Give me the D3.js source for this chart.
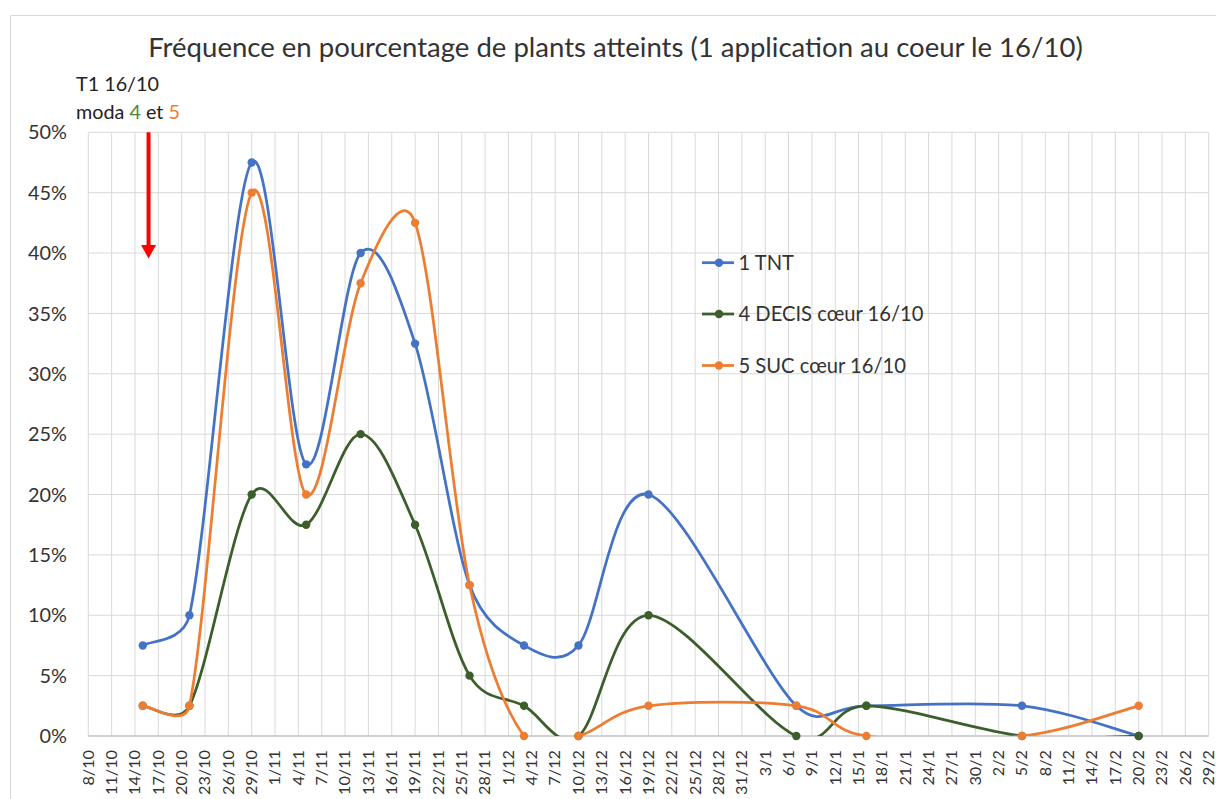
<!DOCTYPE html>
<html>
<head>
<meta charset="utf-8">
<script src="https://cdn.jsdelivr.net/npm/d3@7/dist/d3.min.js"></script>
<style>
  html, body { margin: 0; padding: 0; background: #fff; }
  svg { display: block; }
  text { font-family: Lato, "Open Sans", sans-serif; }
</style>
</head>
<body>
<svg id="chart" width="1216" height="799"></svg>
<script>
// ---------- DATA ----------
const sampleDates = ["15/10","21/10","29/10","5/11","12/11","19/11","26/11","3/12","10/12","19/12","7/1","16/1","5/2","20/2"];
const tnt   = [7.5, 10, 47.5, 22.5, 40, 32.5, 12.5, 7.5, 7.5, 20, 2.5, 2.5, 2.5, 0];
const decis = [2.5, 2.5, 20, 17.5, 25, 17.5, 5, 2.5, 0, 10, 0, 2.5, 0, 0];
const suc   = [2.5, 2.5, 45, 20, 37.5, 42.5, 12.5, 0, 0, 2.5, 2.5, 0, 0, 2.5];
const seriesNames = ["1 TNT", "4 DECIS cœur 16/10", "5 SUC cœur 16/10"];
const seriesColors = ["#4472C4", "#3B5E2B", "#ED7D31"];
const xTickLabels = ["8/10","11/10","14/10","17/10","20/10","23/10","26/10","29/10","1/11","4/11","7/11","10/11","13/11","16/11","19/11","22/11","25/11","28/11","1/12","4/12","7/12","10/12","13/12","16/12","19/12","22/12","25/12","28/12","31/12","3/1","6/1","9/1","12/1","15/1","18/1","21/1","24/1","27/1","30/1","2/2","5/2","8/2","11/2","14/2","17/2","20/2","23/2","26/2","29/2"];
const yTicks = [0, 5, 10, 15, 20, 25, 30, 35, 40, 45, 50];
const titleText = "Fréquence en pourcentage de plants atteints (1 application au coeur le 16/10)";
const treatmentDate = "16/10";

// ---------- HELPERS ----------
function toDate(s) {
  const [d, m] = s.split("/").map(Number);
  const y = m >= 8 ? 2019 : 2020;
  return new Date(Date.UTC(y, m - 1, d));
}
function fit(sel, target) {
  const node = sel.node();
  const fs = parseFloat(sel.attr("font-size"));
  const w = node.getComputedTextLength();
  const nfs = fs * target / w;
  sel.attr("font-size", nfs);
  return nfs;
}

// Excel-like smoothed line (Bezier, handles capped at half the chord)
function CurveExcel(context) { this._context = context; }
CurveExcel.prototype = {
  areaStart() { this._line = 0; },
  areaEnd() { this._line = NaN; },
  lineStart() { this._pts = []; },
  point(x, y) { this._pts.push([+x, +y]); },
  lineEnd() {
    const p = this._pts, n = p.length, c = this._context;
    if (!n) return;
    c.moveTo(p[0][0], p[0][1]);
    const dist = (a, b) => Math.hypot(a[0] - b[0], a[1] - b[1]);
    for (let i = 0; i < n - 1; i++) {
      const p0 = p[Math.max(i - 1, 0)], p1 = p[i], p2 = p[i + 1], p3 = p[Math.min(i + 2, n - 1)];
      const d12 = dist(p1, p2), d02 = dist(p0, p2), d13 = dist(p1, p3);
      const f1 = (d02 / 6 < d12 / 2) ? 1 / 6 : d12 / (2 * d02);
      const f2 = (d13 / 6 < d12 / 2) ? 1 / 6 : d12 / (2 * d13);
      c.bezierCurveTo(
        p1[0] + f1 * (p2[0] - p0[0]), p1[1] + f1 * (p2[1] - p0[1]),
        p2[0] - f2 * (p3[0] - p1[0]), p2[1] - f2 * (p3[1] - p1[1]),
        p2[0], p2[1]);
    }
  }
};
const curveExcel = ctx => new CurveExcel(ctx);

const svg = d3.select("#chart");
const W = 1216, H = 799;
const plot = { left: 88.3, right: 1208.7, top: 132.3, bottom: 736 };

const x = d3.scaleUtc()
  .domain([toDate(xTickLabels[0]), toDate(xTickLabels[xTickLabels.length - 1])])
  .range([plot.left, plot.right]);
const y = d3.scaleLinear().domain([0, 50]).range([plot.bottom, plot.top]);

// chart border
svg.append("path")
  .attr("d", `M10.5,${H} L10.5,15.5 L${W},15.5`)
  .attr("fill", "none").attr("stroke", "#d9d9d9").attr("stroke-width", 1);

// gridlines
const grid = svg.append("g");
grid.selectAll("line.v").data(xTickLabels).join("line")
  .attr("class", "v")
  .attr("x1", d => x(toDate(d))).attr("x2", d => x(toDate(d)))
  .attr("y1", plot.top).attr("y2", plot.bottom)
  .attr("stroke", "#d9d9d9").attr("stroke-width", 1);
grid.selectAll("line.h").data(yTicks).join("line")
  .attr("class", "h")
  .attr("x1", plot.left).attr("x2", plot.right)
  .attr("y1", d => y(d)).attr("y2", d => y(d))
  .attr("stroke", "#d9d9d9").attr("stroke-width", 1);
// x axis line
svg.append("line")
  .attr("x1", plot.left).attr("x2", plot.right)
  .attr("y1", y(0)).attr("y2", y(0))
  .attr("stroke", "#c8c8c8").attr("stroke-width", 1.5);

// y labels
const yl = svg.append("g").selectAll("text").data(yTicks).join("text")
  .attr("x", 67).attr("y", d => y(d)).attr("dy", "0.36em")
  .attr("text-anchor", "end").attr("fill", "#333").attr("font-size", 20)
  .text(d => d + "%");
const yfs = fit(yl.filter(d => d === 50), 39);
yl.attr("font-size", yfs);

// x labels
const xl = svg.append("g").selectAll("text").data(xTickLabels).join("text")
  .attr("transform", d => `translate(${x(toDate(d))},750) rotate(-90)`)
  .attr("dy", "0.33em")
  .attr("text-anchor", "end").attr("fill", "#333").attr("font-size", 18)
  .text(d => d);
const xfs = fit(xl.filter(d => d === "10/12"), 45);
xl.attr("font-size", xfs);

// title
const title = svg.append("text")
  .attr("x", 615.5).attr("y", 57).attr("text-anchor", "middle")
  .attr("fill", "#333").attr("font-size", 22).text(titleText);
fit(title, 935);

// series
const defs = svg.append("defs");
defs.append("clipPath").attr("id", "clip").append("rect")
  .attr("x", plot.left).attr("y", plot.top - 10)
  .attr("width", plot.right - plot.left).attr("height", plot.bottom - plot.top + 10);

const seriesData = [tnt, decis, suc].map(vals => vals.map((v, i) => ({ date: toDate(sampleDates[i]), v })));
const line = d3.line().x(d => x(d.date)).y(d => y(d.v)).curve(curveExcel);

const gS = svg.append("g");
seriesData.forEach((data, si) => {
  const g = gS.append("g");
  g.append("path").datum(data)
    .attr("d", line).attr("fill", "none")
    .attr("stroke", seriesColors[si]).attr("stroke-width", 2.75)
    .attr("stroke-linejoin", "round").attr("stroke-linecap", "round")
    .attr("clip-path", "url(#clip)");
  g.selectAll("circle").data(data).join("circle")
    .attr("cx", d => x(d.date)).attr("cy", d => y(d.v)).attr("r", 4.2)
    .attr("fill", seriesColors[si]);
});

// legend
const legendY = [262.7, 314, 365.5];
const lg = svg.append("g");
seriesNames.forEach((name, i) => {
  lg.append("line").attr("x1", 702).attr("x2", 734)
    .attr("y1", legendY[i]).attr("y2", legendY[i])
    .attr("stroke", seriesColors[i]).attr("stroke-width", 2.75);
  lg.append("circle").attr("cx", 719).attr("cy", legendY[i]).attr("r", 4.2).attr("fill", seriesColors[i]);
  lg.append("text").attr("class", "lt").attr("x", 738.5).attr("y", legendY[i]).attr("dy", "0.36em")
    .attr("fill", "#333").attr("font-size", 19).text(name);
});
const lfs = fit(lg.selectAll("text.lt").filter((d, i) => i === 1), 185);
lg.selectAll("text.lt").attr("font-size", lfs);

// annotation
const ann = svg.append("g");
const a1 = ann.append("text").attr("x", 76).attr("y", 91).attr("fill", "#222").attr("font-size", 20).text("T1 " + treatmentDate);
const afs = fit(a1, 83);
const a2 = ann.append("text").attr("x", 76).attr("y", 118.5).attr("fill", "#222").attr("font-size", afs);
a2.append("tspan").text("moda ");
a2.append("tspan").attr("fill", "#548235").text("4");
a2.append("tspan").text(" et ");
a2.append("tspan").attr("fill", "#ED7D31").text("5");

// red arrow at treatment date
const ax = x(toDate(treatmentDate)) - 2;
ann.append("line").attr("x1", ax).attr("x2", ax).attr("y1", plot.top).attr("y2", 246)
  .attr("stroke", "#FF0000").attr("stroke-width", 4);
ann.append("path")
  .attr("d", `M${ax - 7.5},245 L${ax + 7.5},245 L${ax},258.5 Z`)
  .attr("fill", "#FF0000");
</script>
</body>
</html>
